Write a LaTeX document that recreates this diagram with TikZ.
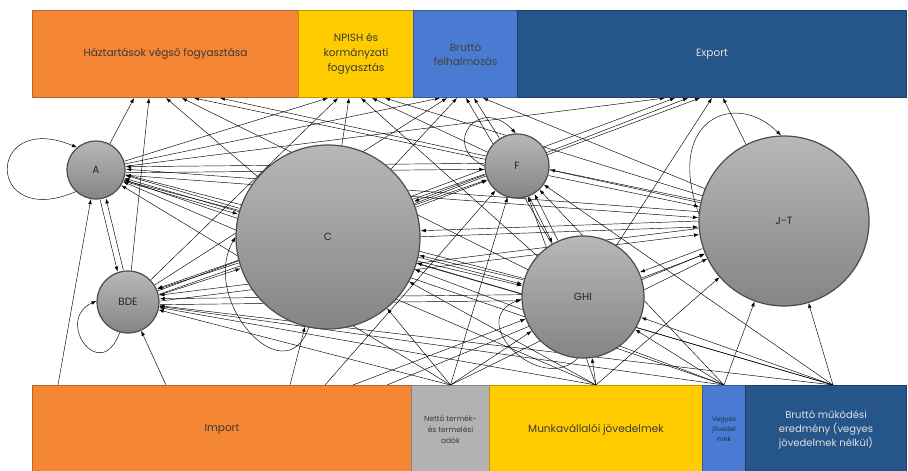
\documentclass[tikz,border=0pt]{standalone}
\usepackage{fontspec}
\setmainfont{Poppins}
\usetikzlibrary{arrows.meta,calc}
\pgfdeclarelayer{background}
\pgfsetlayers{background,main}

\definecolor{hhorange}{HTML}{F58634}
\definecolor{govyellow}{HTML}{FFCC00}
\definecolor{invblue}{HTML}{4A7BD2}
\definecolor{expblue}{HTML}{26558A}
\definecolor{taxgray}{HTML}{B2B2B2}
\definecolor{txtdark}{HTML}{3A3A3A}

\tikzset{
  bar/.style={draw=#1!75!black, fill=#1, line width=1pt, anchor=north west,
    align=center, inner sep=2pt, text=txtdark},
  sector/.style={circle, inner sep=0pt, outer sep=0.6pt, draw=black!70,
    line width=1.2pt, top color=black!28, bottom color=black!48,
    minimum size=#1, text=black!85, font=\fontsize{10.5}{12}\selectfont},
  flow/.style={-{Latex[length=5pt,width=3.6pt]}, line width=0.45pt},
}

\begin{document}
\begin{tikzpicture}[x=1pt,y=-1pt]
\useasboundingbox (0,0) rectangle (908,471);

% final uses
\node[bar=hhorange, minimum width=266, minimum height=87, font=\fontsize{10.5}{12}\selectfont] (hh) at (32,10) {Háztartások végső fogyasztása};
\node[bar=govyellow, minimum width=115, minimum height=87, font=\fontsize{10.5}{15}\selectfont] (npish) at (298,10) {NPISH és\\kormányzati\\fogyasztás};
\node[bar=invblue, minimum width=104, minimum height=87, font=\fontsize{10.5}{14}\selectfont, text=black!75] (gfcf) at (413,10) {Bruttó\\felhalmozás};
\node[bar=expblue, minimum width=389, minimum height=87, font=\fontsize{10.5}{12}\selectfont, text=black!12] (export) at (517,10) {Export};

% primary inputs
\node[bar=hhorange, minimum width=379, minimum height=88, font=\fontsize{10.5}{12}\selectfont] (import) at (32,385) {Import};
\node[bar=taxgray, minimum width=78, minimum height=88, font=\fontsize{7.5}{11}\selectfont] (tax) at (411,385) {Nettó termék-\\és termelési\\adók};
\node[bar=govyellow, minimum width=213, minimum height=88, font=\fontsize{10.5}{12}\selectfont] (wage) at (489,385) {Munkavállalói jövedelmek};
\node[bar=invblue, minimum width=43, minimum height=88, font=\fontsize{6.5}{10}\selectfont, text=expblue!55!black] (mixed) at (702,385) {Vegyes\\jövedel\\mek};
\node[bar=expblue, minimum width=161, minimum height=88, font=\fontsize{10}{14}\selectfont, text=black!12] (gos) at (745,385) {Bruttó működési\\eredmény (vegyes\\jövedelmek nélkül)};

% sectors
\node[sector=58] (A) at (96,170) {A};
\node[sector=62] (BDE) at (128,302) {BDE};
\node[sector=184] (C) at (328,237) {C};
\node[sector=64] (F) at (517,166) {F};
\node[sector=122] (GHI) at (583,297) {GHI};
\node[sector=170] (JT) at (784,221) {J-T};

\begin{pgfonlayer}{background}
% sector to sector
\foreach \s/\rs in {A/30,BDE/32,C/93,F/33,GHI/62,JT/86}
  \foreach \t/\rt in {A/30,BDE/32,C/93,F/33,GHI/62,JT/86}{
    \ifx\s\t\else
      \draw[flow, shorten <=\rs pt, shorten >=\rt pt] ($(\s)!3pt!-90:(\t)$) -- ($(\t)!3pt!90:(\s)$);
    \fi
  }

% sector to final uses
\foreach \s/\a/\b/\c/\d in {A/102/30/27/148, BDE/117/40/34/158, C/134/51/44/171,
    F/162/74/61/183, GHI/150/63/53/195, JT/188/87/70/206}{
  \draw[flow] (\s) -- ([xshift=\a]hh.south west);
  \draw[flow] (\s) -- ([xshift=\b]npish.south west);
  \draw[flow] (\s) -- ([xshift=\c]gfcf.south west);
  \draw[flow] (\s) -- ([xshift=\d]export.south west);
}

% primary inputs to sectors
\foreach \s/\m in {A/26, BDE/134, C/258, F/293, GHI/321, JT/355}{
  \draw[flow] ([xshift=\m]import.north west) -- (\s);
  \draw[flow] (tax.north) -- (\s);
  \draw[flow] (wage.north) -- (\s);
  \draw[flow] (mixed.north) -- (\s);
  \draw[flow] ([xshift=7]gos.north) -- (\s);
}

% own use loops
\draw[flow] (A.227) .. controls +(-91,39) and +(-92,-38) .. (A.130);
\draw[flow] (BDE.255) .. controls +(-20,53) and +(-42,19) .. (BDE.178);
\draw[flow] (C.258) .. controls +(-24,68) and +(-36,63) .. (C.180);
\draw[flow] (F.180) .. controls +(-45,-21) and +(-36,-39) .. (F.92);
\draw[flow] (GHI.265) .. controls +(-38,37) and +(-57,21) .. (GHI.182);
\draw[flow] (JT.175) .. controls +(-34,-94) and +(-46,-46) .. (JT.92);
\end{pgfonlayer}

\end{tikzpicture}
\end{document}
